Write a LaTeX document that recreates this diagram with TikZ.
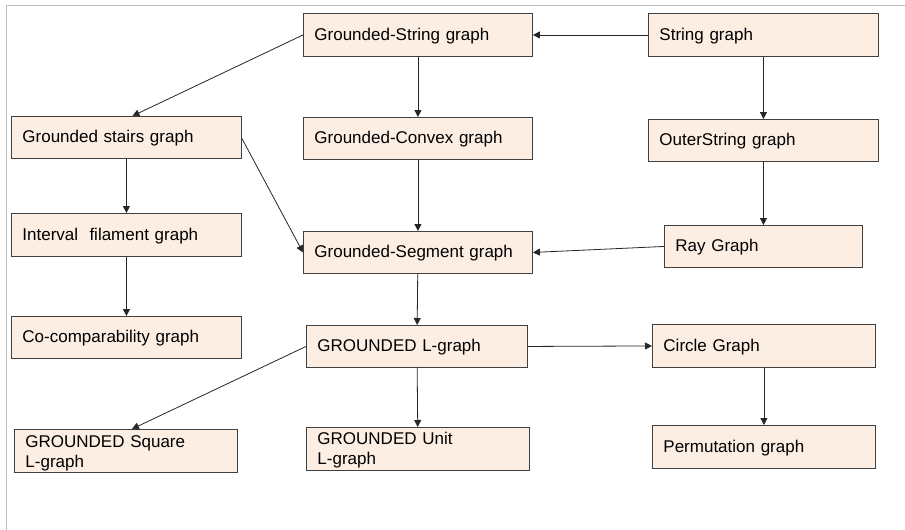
\documentclass[tikz,border=0pt]{standalone}
\usepackage{fontspec}
\setmainfont{Liberation Sans}
\usepackage{tikz}
\usetikzlibrary{arrows.meta}
\definecolor{boxfill}{HTML}{FDEEE3}
\definecolor{boxline}{HTML}{404040}
\tikzset{
    classbox/.style={draw=boxline, fill=boxfill, line width=0.9pt, anchor=north west,
        inner xsep=11pt, inner ysep=1pt, align=left, text height=14pt,
        font=\fontsize{17}{20}\selectfont}, % box of a graph class
    link/.style={draw=black!85, line width=0.8pt, -{Triangle[length=7pt, width=7pt]}} % inclusion arrow
}

\begin{document}
\begin{tikzpicture}[x=1pt, y=-1pt]
    \useasboundingbox (0,0) rectangle (905,530);
    \draw[black!25, line width=1pt] (905,5) -- (6,5) -- (6,530);

    % name / left / top / width / height / text depth / text
    \foreach \name / \x / \y / \w / \h / \dep / \labelText in {
        gstring/303/13/229/43/3/{Grounded-String graph},
        string/648/13/230/43/3/{String graph},
        stairs/11/116/230/42/3/{Grounded stairs graph},
        gconvex/303/117/229/42/3/{Grounded-Convex graph},
        outer/648/119/230/42/3/{OuterString graph},
        interval/11/213/230/43/3/{Interval\ \ filament graph},
        gsegment/303/231/229/42/3/{Grounded-Segment graph},
        ray/664/225/198/42/3/{Ray Graph},
        cocomp/11/316/230/42/3/{Co-comparability graph},
        glgraph/306/325/221/42/3/{GROUNDED L-graph},
        circle/652/324/223/43/3/{Circle Graph},
        square/14/429/223/43/21/{GROUNDED Square\\L-graph},
        unit/306/427/223/43/23/{GROUNDED Unit\\L-graph},
        perm/652/425/223/43/3/{Permutation graph}
    } {
        \node[classbox, text width=\w pt-22pt, minimum height=\h pt, text depth=\dep pt] (\name) at (\x, \y) {\labelText};
    }

    \draw[link] (string) -- (gstring);
    \draw[link] (gstring.west) -- ([xshift=6pt]stairs.north);
    \draw[link] (gstring) -- (gconvex);
    \draw[link] (string) -- (outer);
    \draw[link] (outer) -- (ray);
    \draw[link] (stairs) -- (interval);
    \draw[link] (interval) -- (cocomp);
    \draw[link] ([yshift=-1pt]stairs.east) -- (gsegment.west);
    \draw[link] (gconvex) -- (gsegment);
    \draw[link] (ray.west) -- (gsegment.east);
    \draw[link] (gsegment) -- (glgraph);
    \draw[link] (glgraph.west) -- ([xshift=6pt]square.north);
    \draw[link] (glgraph) -- (unit);
    \draw[link] (glgraph.east) -- (circle.west);
    \draw[link] (circle) -- (perm);
\end{tikzpicture}
\end{document}
